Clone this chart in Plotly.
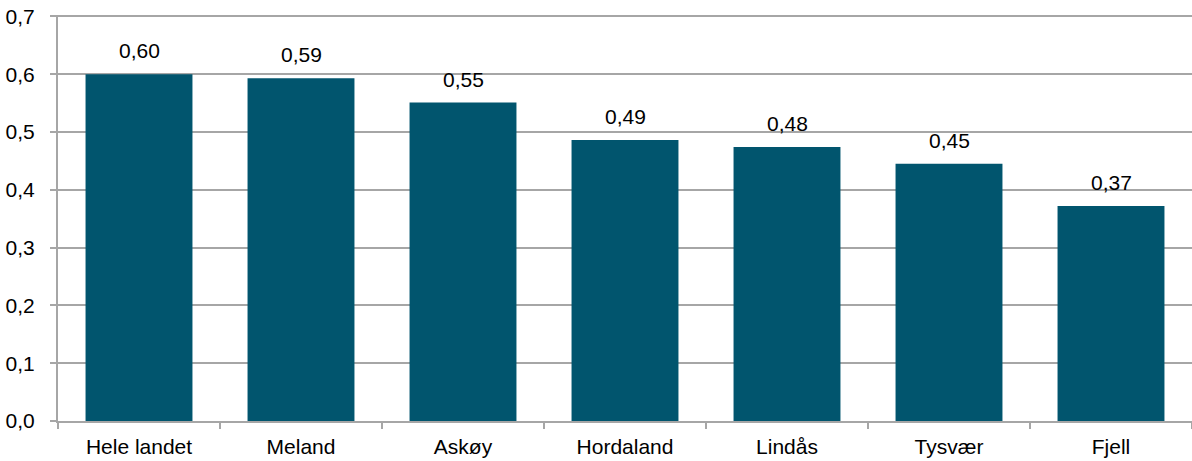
import plotly.graph_objects as go

categories = ["Hele landet", "Meland", "Askøy", "Hordaland", "Lindås", "Tysvær", "Fjell"]
values = [0.600, 0.593, 0.551, 0.486, 0.474, 0.445, 0.372]
labels = ["0,60", "0,59", "0,55", "0,49", "0,48", "0,45", "0,37"]
y_ticks = [0.0, 0.1, 0.2, 0.3, 0.4, 0.5, 0.6, 0.7]
y_tick_labels = ["0,0", "0,1", "0,2", "0,3", "0,4", "0,5", "0,6", "0,7"]

FONT = "Liberation Sans, Arial, sans-serif"
FS = 21
BAR = "#01556E"
GRID = "#A6A6A6"

fig = go.Figure(go.Bar(x=categories, y=values, marker=dict(color=BAR, line=dict(width=0)),
                       hoverinfo="skip"))

annotations = [dict(x=c, y=v, text=t, showarrow=False, yanchor="bottom", yshift=10,
                    font=dict(family=FONT, size=FS, color="#000000"))
               for c, v, t in zip(categories, values, labels)]

fig.update_layout(
    width=1192, height=461,
    margin=dict(l=58, r=0, t=15, b=40, autoexpand=False),
    paper_bgcolor="white", plot_bgcolor="white",
    bargap=0.34,
    showlegend=False,
    font=dict(family=FONT, size=FS, color="#000000"),
    annotations=annotations,
    xaxis=dict(type="category", showgrid=False, showline=True, linecolor=GRID, linewidth=2,
               ticks="outside", tickson="boundaries", ticklen=6, tickcolor=GRID, tickwidth=2,
               ticklabelstandoff=6, automargin=False,
               tickfont=dict(family=FONT, size=FS, color="#000000")),
    yaxis=dict(range=[0, 0.7025], tickvals=y_ticks, ticktext=y_tick_labels, showgrid=True,
               gridcolor=GRID, gridwidth=2, showline=True, linecolor=GRID, linewidth=2,
               ticks="outside", ticklen=6, tickcolor=GRID, tickwidth=2, zeroline=False,
               ticklabelstandoff=11, automargin=False,
               tickfont=dict(family=FONT, size=FS, color="#000000")),
)

fig.write_html("out.html", config={"displayModeBar": False},
               post_script="document.body.style.margin='0';")
